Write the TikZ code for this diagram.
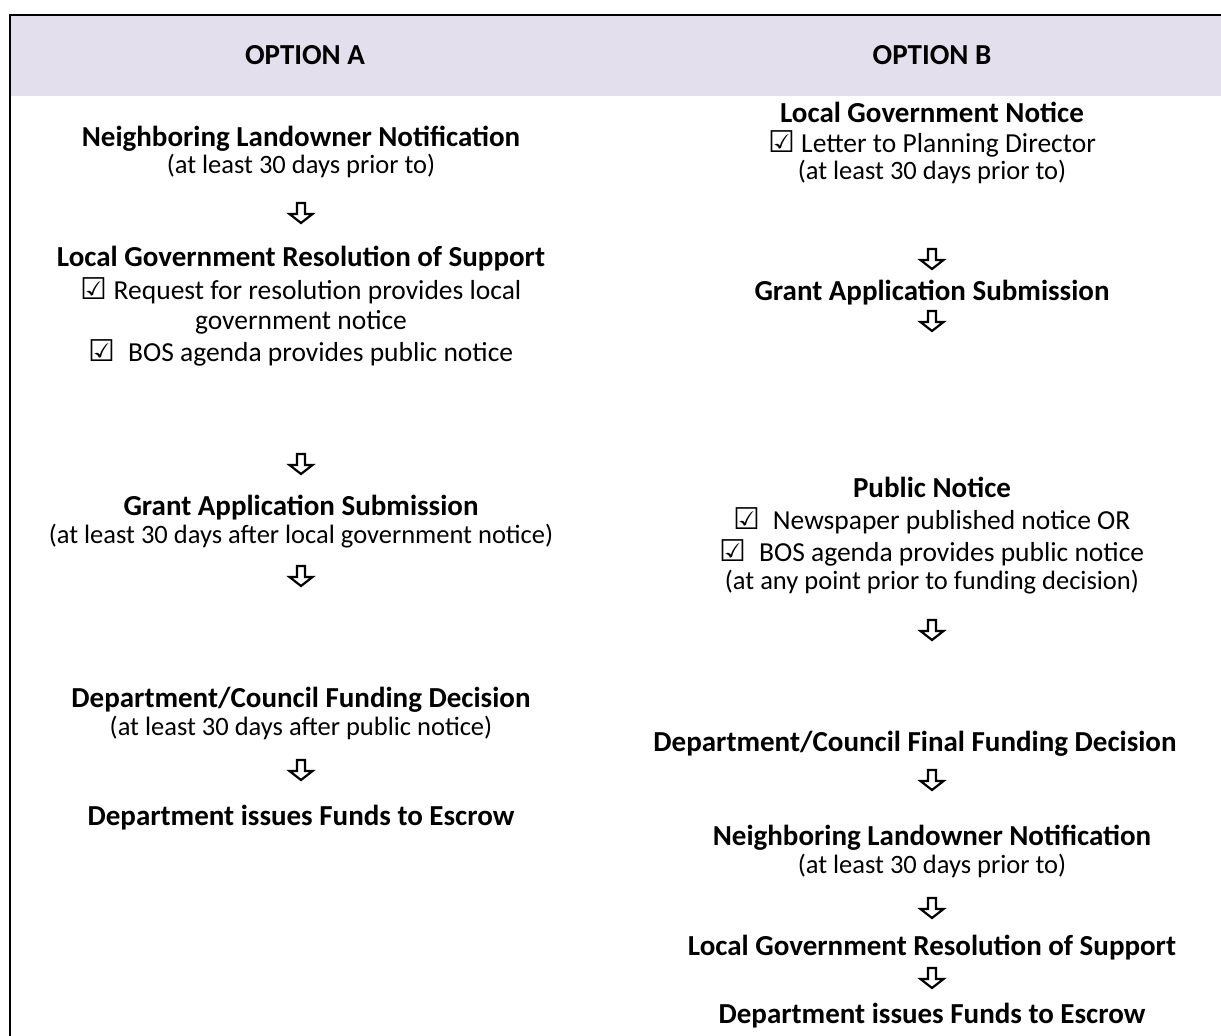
\documentclass[tikz,border=0pt]{standalone}
\usepackage{fontspec}
\setmainfont{Carlito}
\newfontfamily\symfont{DejaVu Sans}
\definecolor{hdrfill}{HTML}{E4DFEC}
\newcommand{\cbox}{{\symfont\fontsize{30}{30}\selectfont ☑}}
\tikzset{
  every node/.style={inner sep=0pt, outer sep=0pt, text height=20pt, text depth=6pt},
  hd/.style={font=\fontsize{29}{34}\selectfont\bfseries},
  tx/.style={font=\fontsize{27.5}{32}\selectfont},
  sm/.style={font=\fontsize{26.5}{31}\selectfont},
  hollowdown/.pic={
    \draw[line width=2.2pt, line join=miter]
      (-4,-10) -- (-4,1) -- (-11.5,1) -- (0,10) -- (11.5,1) -- (4,1) -- (4,-10) -- cycle;
  }
}
\begin{document}
\begin{tikzpicture}[x=1pt, y=-1pt]
\useasboundingbox (0,0) rectangle (1221,1036);
\fill[hdrfill] (11,16) rectangle (1221,96);
\draw[line width=2.4pt] (10,1036) -- (10,15) -- (1221,15);

% header
\node[hd] (ha) at (305,57) {OPTION A};
\node[hd] (hb) at (932,57) {OPTION B};

% ---------- Option A ----------
\node[hd] (a1) at (301,139) {Neighboring Landowner Notification};
\node[sm] (a1s) at (301,166) {(at least 30 days prior to)};
\pic at (301,213) {hollowdown};
\node[hd] (a2) at (301,259) {Local Government Resolution of Support};
\node[tx] (a2a) at (301,292) {\cbox\ Request for resolution provides local};
\node[tx] (a2b) at (301,322) {government notice};
\node[tx] (a2c) at (301,354) {\cbox\ \ BOS agenda provides public notice};
\pic at (301,464) {hollowdown};
\node[hd] (a3) at (301,508) {Grant Application Submission};
\node[sm] (a3s) at (301,536) {(at least 30 days after local government notice)};
\pic at (301,576) {hollowdown};
\node[hd] (a4) at (301,700) {Department/Council Funding Decision};
\node[sm] (a4s) at (301,728) {(at least 30 days after public notice)};
\pic at (301,770) {hollowdown};
\node[hd] (a5) at (301,818) {Department issues Funds to Escrow};

% ---------- Option B ----------
\node[hd] (b1) at (932,115) {Local Government Notice};
\node[tx] (b1a) at (932,145) {\cbox\ Letter to Planning Director};
\node[sm] (b1s) at (932,172) {(at least 30 days prior to)};
\pic at (932,259) {hollowdown};
\node[hd] (b2) at (932,293) {Grant Application Submission};
\pic at (932,321) {hollowdown};
\node[hd] (b3) at (932,490) {Public Notice};
\node[tx] (b3a) at (932,522) {\cbox\ \ Newspaper published notice OR};
\node[tx] (b3b) at (932,554) {\cbox\ \ BOS agenda provides public notice};
\node[sm] (b3s) at (932,582) {(at any point prior to funding decision)};
\pic at (932,630) {hollowdown};
\node[hd] (b4) at (915,744) {Department/Council Final Funding Decision};
\pic at (932,780) {hollowdown};
\node[hd] (b5) at (932,838) {Neighboring Landowner Notification};
\node[sm] (b5s) at (932,866) {(at least 30 days prior to)};
\pic at (932,908) {hollowdown};
\node[hd] (b6) at (932,948) {Local Government Resolution of Support};
\pic at (932,978) {hollowdown};
\node[hd] (b7) at (932,1016) {Department issues Funds to Escrow};
\end{tikzpicture}
\end{document}
